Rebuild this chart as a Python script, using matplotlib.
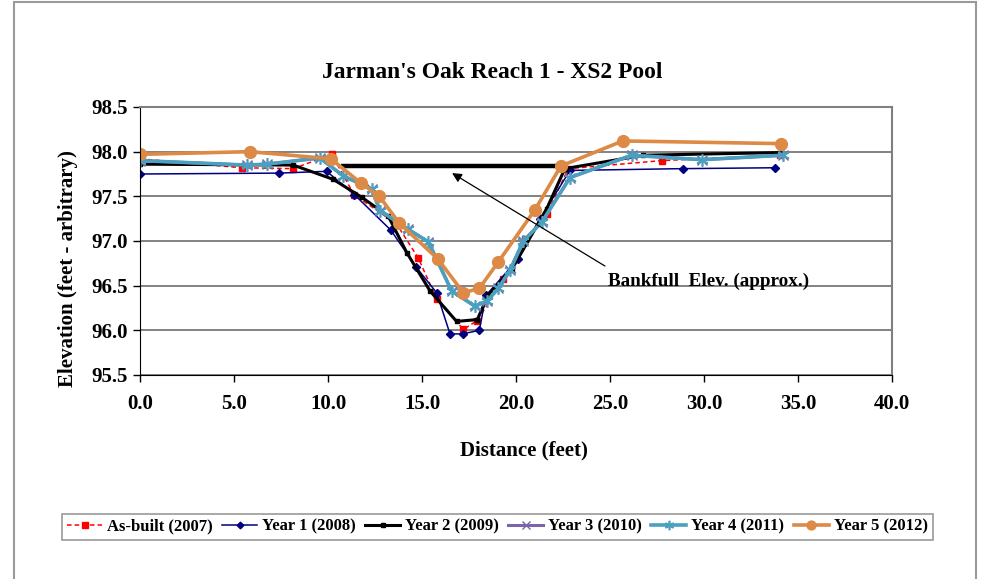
import matplotlib
matplotlib.use("Agg")
import matplotlib.pyplot as plt
from matplotlib.patches import Rectangle

plt.rcParams['font.family'] = ['Liberation Serif', 'DejaVu Serif']
plt.rcParams['font.weight'] = 'bold'

title = "Jarman's Oak Reach 1 - XS2 Pool"
xlabel = "Distance (feet)"
ylabel = "Elevation (feet - arbitrary)"

asbuilt_x = [0.0, 5.41, 8.15, 10.2, 11.38, 13.65, 14.8, 15.78, 17.2, 17.94, 19.32, 20.48, 21.63, 22.78, 27.75, 34.04]
asbuilt_y = [97.92, 97.82, 97.81, 97.97, 97.52, 97.19, 96.81, 96.35, 96.01, 96.11, 96.57, 97.02, 97.30, 97.81, 97.90, 97.96]

year1_x = [0.0, 7.41, 9.93, 11.4, 13.35, 14.68, 15.78, 16.49, 17.16, 18.05, 18.40, 20.12, 21.28, 22.87, 28.87, 33.78]
year1_y = [97.75, 97.76, 97.78, 97.52, 97.12, 96.71, 96.42, 95.96, 95.96, 96.00, 96.39, 96.80, 97.25, 97.79, 97.81, 97.82]

year2_x = [0.0, 8.15, 10.28, 11.79, 13.2, 14.19, 15.43, 16.84, 17.94, 18.53, 19.77, 21.63, 22.6, 26.77, 34.04]
year2_y = [97.86, 97.85, 97.69, 97.49, 97.28, 96.87, 96.44, 96.10, 96.12, 96.40, 96.68, 97.36, 97.81, 97.96, 97.99]

year3_x = [0.0, 5.68, 6.74, 9.57, 10.8, 12.32, 12.77, 14.27, 15.34, 16.58, 17.82, 18.47, 19.06, 19.68, 20.39, 21.37, 22.87, 26.15, 29.88, 34.19]
year3_y = [97.90, 97.85, 97.86, 97.93, 97.73, 97.58, 97.34, 97.13, 96.99, 96.44, 96.27, 96.33, 96.47, 96.67, 97.00, 97.21, 97.71, 97.96, 97.91, 97.96]

year4_x = [0.0, 5.68, 6.74, 9.57, 10.8, 12.32, 12.77, 14.27, 15.34, 16.58, 17.82, 18.47, 19.06, 19.68, 20.39, 21.37, 22.87, 26.15, 29.88, 34.19]
year4_y = [97.90, 97.85, 97.86, 97.93, 97.73, 97.58, 97.34, 97.13, 96.99, 96.44, 96.27, 96.33, 96.47, 96.67, 97.00, 97.21, 97.71, 97.96, 97.91, 97.96]

year5_x = [0.0, 5.85, 10.16, 11.74, 12.73, 13.79, 15.84, 17.2, 18.05, 19.04, 21.01, 22.39, 25.68, 34.1]
year5_y = [97.97, 98.00, 97.92, 97.65, 97.50, 97.20, 96.80, 96.42, 96.47, 96.76, 97.35, 97.84, 98.12, 98.09]

bankfull_x = [10.7, 22.3]
bankfull_y = [97.84, 97.84]
bankfull_label = "Bankfull  Elev. (approx.)"
arrow_start = (24.73, 96.72)
arrow_end = (16.6, 97.76)
label_pos = (24.9, 96.55)

xticks = [0.0, 5.0, 10.0, 15.0, 20.0, 25.0, 30.0, 35.0, 40.0]
yticks = [95.5, 96.0, 96.5, 97.0, 97.5, 98.0, 98.5]

W, H = 984, 579
fig = plt.figure(figsize=(W / 100, H / 100), dpi=100)
ax = fig.add_axes([140 / W, 1 - 375 / H, (892 - 140) / W, (375 - 107) / H])

# outer frame
fig.patches.append(Rectangle((14 / W, -0.05), (976 - 14) / W, 1.05 - 2 / H,
                             transform=fig.transFigure, fill=False,
                             edgecolor='#9a9a9a', linewidth=1.5))

ax.set_xlim(0, 40)
ax.set_ylim(95.5, 98.5)
ax.set_xticks(xticks)
ax.set_yticks(yticks)
ax.set_xticklabels([f"{v:.1f}" for v in xticks])
ax.set_yticklabels([f"{v:.1f}" for v in yticks])
ax.tick_params(axis='both', labelsize=15, direction='out', length=5, width=1, colors='black')
ax.tick_params(axis='x', pad=9)
ax.tick_params(axis='y', pad=4)
for lab in ax.get_xticklabels() + ax.get_yticklabels():
    lab.set_fontweight('bold')

ax.yaxis.grid(True, color='#606060', linewidth=1.1)
ax.set_axisbelow(True)
ax.spines['left'].set_color('black')
ax.spines['bottom'].set_color('black')
ax.spines['top'].set_color('#808080')
ax.spines['right'].set_color('#808080')
ax.spines['top'].set_linewidth(1.5)
ax.spines['right'].set_linewidth(1.5)

orange = '#dc8a45'
teal = '#4b9fbf'
purple = '#7b64a8'
navy = '#000080'

l0, = ax.plot(asbuilt_x, asbuilt_y, color='red', linestyle=(0, (3, 2)), linewidth=1.1,
              marker='s', markersize=5, label='As-built (2007)')
l1, = ax.plot(year1_x, year1_y, color=navy, linewidth=1.1, marker='D', markersize=4.5,
              label='Year 1 (2008)')
l2, = ax.plot(year2_x, year2_y, color='black', linewidth=2.2, marker='s', markersize=3.5,
              label='Year 2 (2009)')
l3, = ax.plot(year3_x, year3_y, color=purple, linewidth=2.2, marker='x', markersize=7,
              label='Year 3 (2010)')
l4, = ax.plot(year4_x, year4_y, color=teal, linewidth=2.6, marker=(6, 2, 0), markersize=9,
              markeredgewidth=1.2, label='Year 4 (2011)')
l5, = ax.plot(year5_x, year5_y, color=orange, linewidth=2.6, marker='o', markersize=8.5,
              label='Year 5 (2012)')

ax.plot(bankfull_x, bankfull_y, color='black', linewidth=3.2, solid_capstyle='butt', zorder=1.5)
ax.annotate('', xy=arrow_end, xytext=arrow_start,
            arrowprops=dict(arrowstyle='-|>', color='black', linewidth=0.9,
                            mutation_scale=14, shrinkA=0, shrinkB=0))
ax.text(label_pos[0], label_pos[1], bankfull_label, fontsize=13.8, fontweight='bold',
        ha='left', va='center')

fig.text(0.5, 1 - 72 / H, title, ha='center', va='center', fontsize=16.9, fontweight='bold')
fig.text(524 / W, 1 - 450 / H, xlabel, ha='center', va='center', fontsize=15, fontweight='bold')
fig.text(68 / W, 1 - 269 / H, ylabel, ha='center', va='center', rotation=90,
         fontsize=15, fontweight='bold')

leg = fig.legend(handles=[l0, l1, l2, l3, l4, l5], loc='center',
                 bbox_to_anchor=(497.5 / W, 1 - 526.5 / H), ncol=6, frameon=True,
                 fancybox=False, edgecolor='#808080', fontsize=12, handlelength=2.1,
                 handletextpad=0.3, columnspacing=0.55, borderpad=0.3, markerscale=0.75)
leg.get_frame().set_linewidth(1.2)
for t in leg.get_texts():
    t.set_fontweight('bold')

fig.savefig('out.png', dpi=100)
